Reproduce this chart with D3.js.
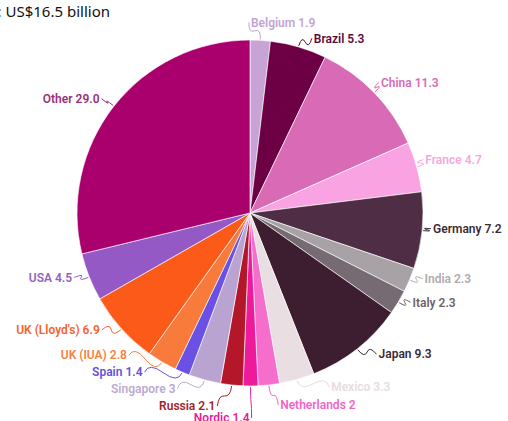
<!DOCTYPE html>
<html>
<head>
<meta charset="utf-8">
<script src="https://cdn.jsdelivr.net/npm/d3@7"></script>
<style>
  html, body { margin: 0; padding: 0; background: #fff; }
  svg { display: block; }
</style>
</head>
<body>
<svg id="chart" width="508" height="421"></svg>
<script>
// Premium share by market, %
const markets = ["Belgium", "Brazil", "China", "France", "Germany", "India", "Italy", "Japan",
  "Mexico", "Netherlands", "Nordic", "Russia", "Singapore", "Spain", "UK (IUA)", "UK (Lloyd's)", "USA", "Other"];
const shares = [1.9, 5.3, 11.3, 4.7, 7.2, 2.3, 2.3, 9.3, 3.3, 2, 1.4, 2.1, 3, 1.4, 2.8, 6.9, 4.5, 29.0];
const valueLabels = ["1.9", "5.3", "11.3", "4.7", "7.2", "2.3", "2.3", "9.3", "3.3", "2", "1.4", "2.1", "3", "1.4", "2.8", "6.9", "4.5", "29.0"];
const titleText = ": US$16.5 billion";

const sliceColors = ["#c7a3d6", "#6d0044", "#d96bb6", "#f9a3e2", "#4e2d45", "#a8a1a6", "#766b72", "#3d1e30",
  "#e9dfe3", "#f56ecb", "#ee1a9c", "#b4162a", "#b9a3d0", "#6b50e6", "#f97b3c", "#fc5a18", "#9459c4", "#aa006e"];
const textColors = ["#c3a3d3", "#5e0a3c", "#d96bb6", "#f6a8e0", "#3e2b38", "#b1aaaf", "#6d6469", "#3b2a33",
  "#e6dde2", "#f064c8", "#e81e9c", "#a41f2d", "#bbaad3", "#6650e0", "#f8803f", "#f76230", "#9363c2", "#9c2f7c"];

// fine placement of the outside labels relative to their elbow point
const labelShift = {
  "Belgium": [-10, -6], "Brazil": [12, 3], "China": [-2, -2], "France": [-3, -4],
  "Germany": [-1, -3], "India": [4, -6], "Italy": [4, -6], "Japan": [14, -4],
  "Mexico": [31, -4], "Netherlands": [10, 8], "Nordic": [-1, 20], "Russia": [-15, 9],
  "Singapore": [-26, -3], "Spain": [-35, -11], "UK (IUA)": [-29, -17], "UK (Lloyd's)": [-13, -7],
  "USA": [-6, -4], "Other": [-5, 0]
};

const rows = markets.map((m, i) => ({ name: m, value: shares[i], text: m + " " + valueLabels[i], color: sliceColors[i], tcolor: textColors[i] }));

const svg = d3.select("#chart");
const cx = 250, cy = 213, radius = 173;

svg.append("text")
  .attr("x", 110).attr("y", 17)
  .attr("text-anchor", "end")
  .attr("font-family", "'Noto Sans', sans-serif")
  .attr("font-size", 15)
  .attr("fill", "#111")
  .text(titleText);

const pie = d3.pie().sort(null).value(d => d.value);
const arcs = pie(rows);
const arc = d3.arc().innerRadius(0).outerRadius(radius);

const g = svg.append("g").attr("transform", `translate(${cx},${cy})`);

g.selectAll("path.slice")
  .data(arcs)
  .join("path")
  .attr("class", "slice")
  .attr("d", arc)
  .attr("fill", d => d.data.color)
  .attr("stroke", "#fff")
  .attr("stroke-width", 0.8)
  .attr("stroke-opacity", 0.8);

function polar(r, a) { return [r * Math.sin(a), -r * Math.cos(a)]; }

const labels = arcs.map(d => {
  const mid = (d.startAngle + d.endAngle) / 2;
  const edge = polar(radius + 1, mid);
  const elbow = polar(radius + 12, mid);
  const s = labelShift[d.data.name] || [0, 0];
  const lx = elbow[0] + s[0], ly = elbow[1] + s[1];
  return { d, mid, rightSide: lx >= 0, edge, elbow, lx, ly };
});

// connector lines from slice rim to label
g.selectAll("path.leader")
  .data(labels)
  .join("path")
  .attr("class", "leader")
  .attr("fill", "none")
  .attr("stroke", l => l.d.data.tcolor)
  .attr("stroke-width", 1)
  .attr("d", l => {
    const endX = l.lx + (l.rightSide ? -2 : 2);
    const endY = l.ly;
    const mx = (l.edge[0] + endX) / 2, my = (l.edge[1] + endY) / 2;
    return `M${l.edge[0]},${l.edge[1]} Q${l.elbow[0]},${l.elbow[1]} ${mx},${my} T${endX},${endY}`;
  });

g.selectAll("text.lbl")
  .data(labels)
  .join("text")
  .attr("class", "lbl")
  .attr("x", l => l.lx)
  .attr("y", l => l.ly)
  .attr("dy", "0.35em")
  .attr("text-anchor", l => l.rightSide ? "start" : "end")
  .attr("font-family", "Roboto, sans-serif")
  .attr("font-weight", 600)
  .attr("font-size", 12)
  .attr("fill", l => l.d.data.tcolor)
  .attr("stroke", "#fff")
  .attr("stroke-width", 2)
  .attr("paint-order", "stroke")
  .text(l => l.d.data.text);
</script>
</body>
</html>
